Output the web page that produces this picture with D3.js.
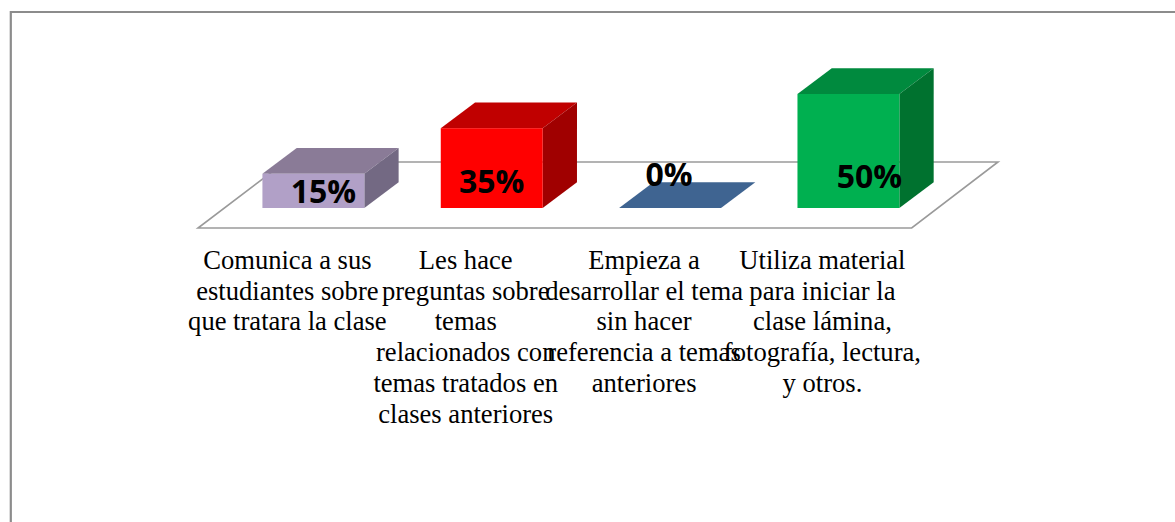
<!DOCTYPE html>
<html><head><meta charset="utf-8">
<style>html,body{margin:0;padding:0;background:#fff;overflow:hidden}svg{display:block}</style>
<script src="https://cdn.jsdelivr.net/npm/d3@7/dist/d3.min.js"></script>
</head><body><svg id="c" width="1175" height="522"></svg>
<script>
const categories = [
  ["Comunica a sus","estudiantes sobre","que tratara la clase"],
  ["Les hace","preguntas sobre","temas","relacionados con","temas tratados en","clases anteriores"],
  ["Empieza a","desarrollar el tema","sin hacer","referencia a temas","anteriores"],
  ["Utiliza material","para iniciar la","clase lámina,","fotografía, lectura,","y otros."]
];
const values = [15, 35, 0, 50];
const valueLabels = ["15%","35%","0%","50%"];
const frontColors = ["#b1a0c7","#ff0000","#3f6491","#00b050"];
const topColors = ["#8a7b97","#c00000","#3f6491","#008a3e"];
const sideColors = ["#736983","#a00000","#3f6491","#00722f"];
const labelShiftX = [10, 0, -1, 21];
const labelBaselines = [203, 193, 186, 188];

const svg = d3.select("#c");
const keys = d3.range(values.length);
const x = d3.scaleBand().domain(keys).range([224.2, 937.6]).paddingInner(0.4286).paddingOuter(0.2143);
const y = d3.scaleLinear().domain([0, 50]).range([208, 94]);
const dx = 34.3, dy = 25.7;

svg.append("path").attr("d","M10.8,522V12H1175").attr("fill","none").attr("stroke","#8c8c8c").attr("stroke-width",2.2);

const floor = d3.path();
floor.moveTo(198,228); floor.lineTo(911.7,228); floor.lineTo(998,162); floor.lineTo(285,162); floor.closePath();
svg.append("path").attr("d",floor.toString()).attr("fill","#fff").attr("stroke","#9a9a9a").attr("stroke-width",1.6);

const bars = svg.selectAll("g.bar").data(keys).join("g").attr("class","bar");
const poly = pts => "M" + pts.map(p => p.join(",")).join("L") + "Z";
bars.append("path").attr("fill", i => topColors[i]).attr("d", i => {
  const l = x(i), r = l + x.bandwidth(), t = y(values[i]);
  return poly([[l,t],[r,t],[r+dx,t-dy],[l+dx,t-dy]]);
});
bars.append("path").attr("fill", i => sideColors[i]).attr("d", i => {
  const r = x(i) + x.bandwidth(), t = y(values[i]), b = y(0);
  return poly([[r,t],[r+dx,t-dy],[r+dx,b-dy],[r,b]]);
});
bars.append("rect").attr("fill", i => frontColors[i])
  .attr("x", i => x(i)).attr("width", x.bandwidth())
  .attr("y", i => y(values[i])).attr("height", i => y(0) - y(values[i]));

svg.selectAll("text.val").data(keys).join("text").attr("class","val")
  .attr("x", i => x(i) + x.bandwidth()/2 + labelShiftX[i])
  .attr("y", i => labelBaselines[i])
  .attr("text-anchor","middle")
  .attr("font-family","'Open Sans',sans-serif").attr("font-weight",700).attr("font-size",32).attr("fill","#000")
  .text(i => valueLabels[i]);

const cats = svg.selectAll("text.cat").data(keys).join("text").attr("class","cat")
  .attr("text-anchor","middle")
  .attr("font-family","'Liberation Serif',serif").attr("font-size",26.6).attr("fill","#000");
cats.selectAll("tspan").data(i => categories[i].map(t => ({t, i}))).join("tspan")
  .attr("x", d => x(d.i) + x.bandwidth()/2 - 26)
  .attr("y", (d, j) => 269 + j * 30.7)
  .text(d => d.t);
</script></body></html>
